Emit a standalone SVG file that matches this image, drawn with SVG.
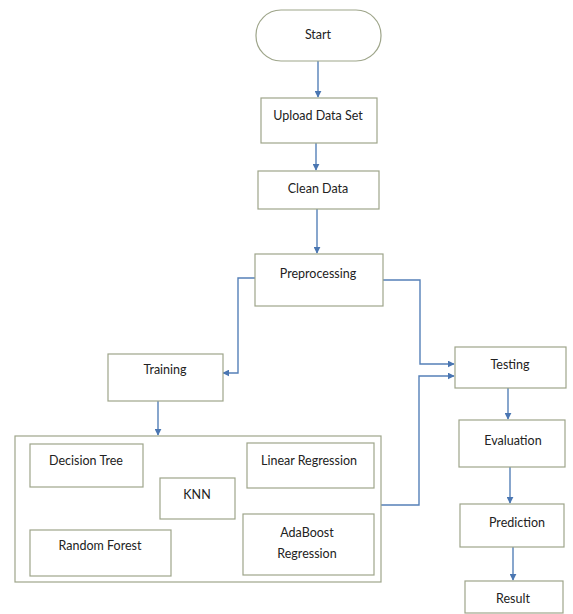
<svg xmlns="http://www.w3.org/2000/svg" width="573" height="614" viewBox="0 0 573 614">
<style>
.box{fill:#fff;stroke:#9ea58a;stroke-width:1.2}
.t{font-family:Lato,"Liberation Sans",sans-serif;font-size:12.5px;fill:#222;text-anchor:middle;dominant-baseline:central}
.c{fill:none;stroke:#5580b8;stroke-width:1.4}
</style>
<defs>
<marker id="ah" viewBox="0 0 10 10" refX="9" refY="5" markerWidth="7" markerHeight="7" markerUnits="userSpaceOnUse" orient="auto">
<path d="M0,0 L10,5 L0,10 z" fill="#4a76b2"/>
</marker>
</defs>
<rect width="573" height="614" fill="#fff"/>
<g id="connectors">
<path class="c" d="M318,61 V97" marker-end="url(#ah)"/>
<path class="c" d="M316,143 V170" marker-end="url(#ah)"/>
<path class="c" d="M317,209 V253" marker-end="url(#ah)"/>
<path class="c" d="M255,278 H238 V373 H223" marker-end="url(#ah)"/>
<path class="c" d="M383,280 H420 V364 H454" marker-end="url(#ah)"/>
<path class="c" d="M381,505 H419 V376 H454" marker-end="url(#ah)"/>
<path class="c" d="M158,401 V435" marker-end="url(#ah)"/>
<path class="c" d="M508,388 V419" marker-end="url(#ah)"/>
<path class="c" d="M510,467 V503" marker-end="url(#ah)"/>
<path class="c" d="M513,547 V580" marker-end="url(#ah)"/>
</g>
<g id="start"><rect class="box" x="256" y="10" width="125" height="51" rx="25" ry="25"/><text class="t" x="318" y="34">Start</text></g>
<g id="upload"><rect class="box" x="261" y="98" width="116" height="45"/><text class="t" x="318" y="115">Upload Data Set</text></g>
<g id="clean"><rect class="box" x="258" y="171" width="121" height="38"/><text class="t" x="318" y="188">Clean Data</text></g>
<g id="preprocessing"><rect class="box" x="255" y="254" width="128" height="52"/><text class="t" x="318" y="273">Preprocessing</text></g>
<g id="training"><rect class="box" x="108" y="354" width="115" height="47"/><text class="t" x="165" y="369">Training</text></g>
<g id="models"><rect class="box" x="15" y="436" width="366" height="146"/></g>
<g id="decision-tree"><rect class="box" x="30" y="444" width="113" height="43"/><text class="t" x="86" y="460">Decision Tree</text></g>
<g id="knn"><rect class="box" x="160" y="478" width="75" height="41"/><text class="t" x="197" y="494">KNN</text></g>
<g id="random-forest"><rect class="box" x="30" y="530" width="141" height="46"/><text class="t" x="100" y="545">Random Forest</text></g>
<g id="linear-regression"><rect class="box" x="247" y="443" width="127" height="45"/><text class="t" x="309" y="460">Linear Regression</text></g>
<g id="adaboost"><rect class="box" x="243" y="514" width="131" height="61"/><text class="t" x="307" y="532">AdaBoost</text><text class="t" x="307" y="553">Regression</text></g>
<g id="testing"><rect class="box" x="455" y="347" width="111" height="41"/><text class="t" x="510" y="364">Testing</text></g>
<g id="evaluation"><rect class="box" x="459" y="420" width="106" height="47"/><text class="t" x="513" y="440">Evaluation</text></g>
<g id="prediction"><rect class="box" x="460" y="504" width="104" height="43"/><text class="t" x="517" y="522">Prediction</text></g>
<g id="result"><rect class="box" x="465" y="581" width="98" height="32"/><text class="t" x="513" y="598">Result</text></g>
</svg>
